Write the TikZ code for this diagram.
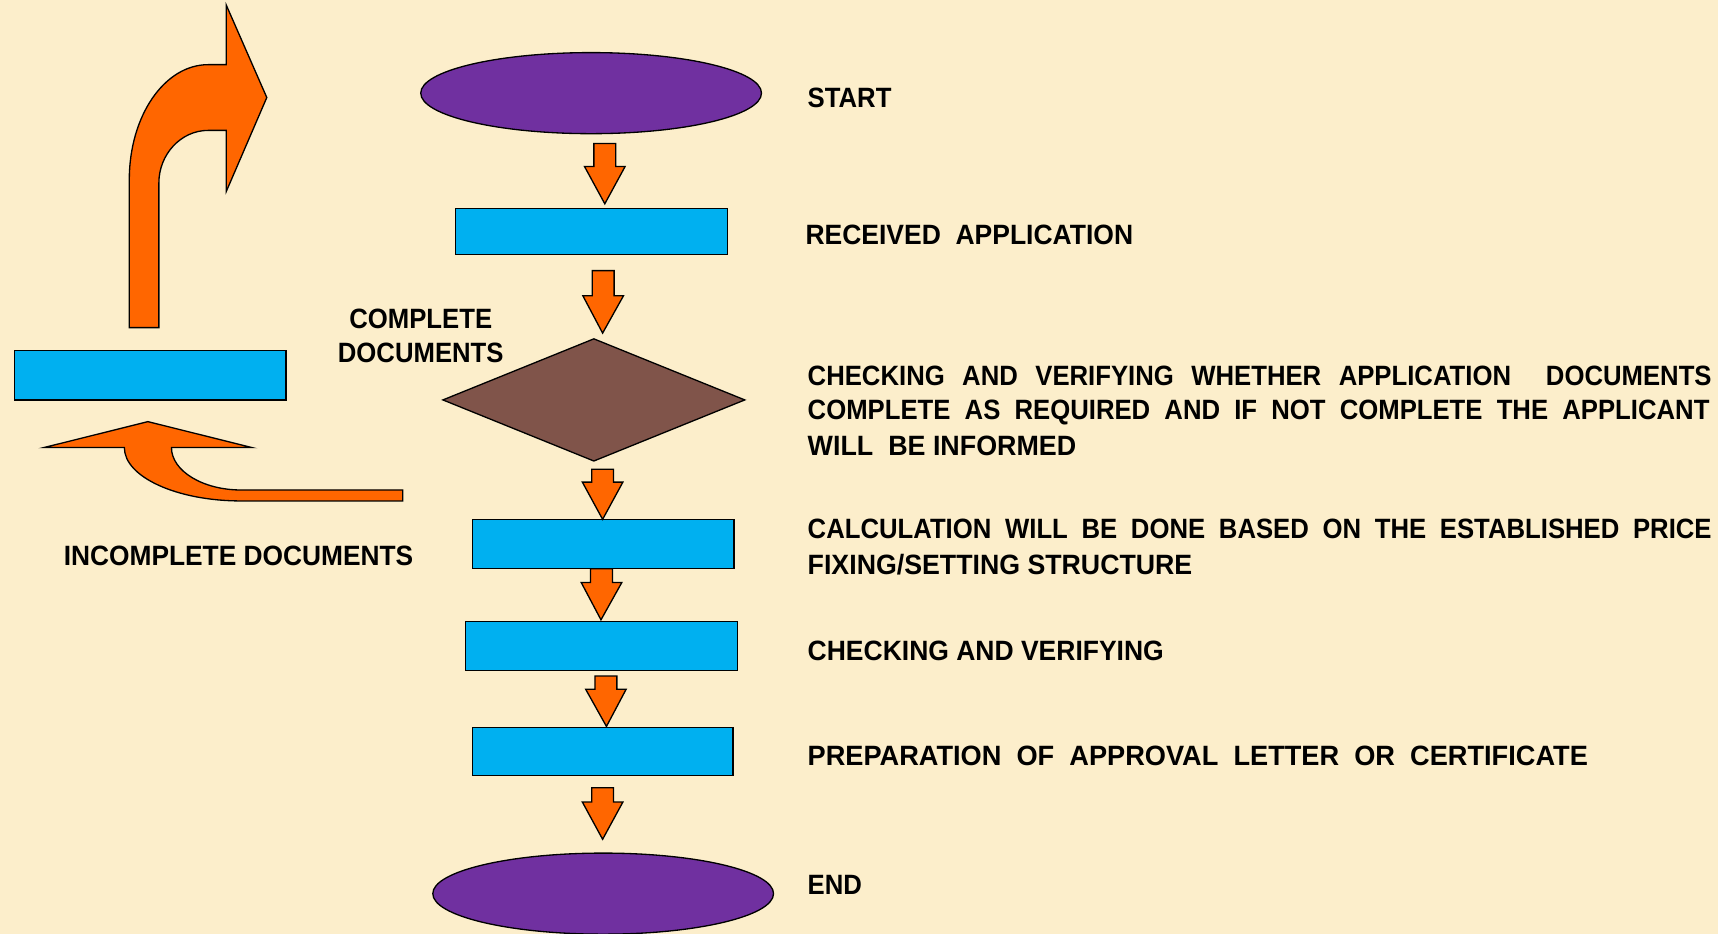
\documentclass[tikz,border=0pt]{standalone}
\usepackage{fontspec}
\setmainfont{Liberation Sans}[FakeStretch=0.92]
\usetikzlibrary{shapes.geometric,calc}
\definecolor{bgc}{RGB}{252,238,203}
\definecolor{purp}{RGB}{112,48,160}
\definecolor{cyanb}{RGB}{0,176,240}
\definecolor{orng}{RGB}{255,102,0}
\definecolor{brwn}{RGB}{128,84,74}
\tikzset{
 outl/.style={draw=black, line width=1.2pt, line join=miter},
 ell/.style={outl, ellipse, fill=purp, minimum width=311pt, minimum height=74pt, inner sep=0pt},
 boxr/.style={outl, rectangle, fill=cyanb, inner sep=0pt},
 dia/.style={outl, diamond, fill=brwn, inner sep=0pt, minimum width=276pt, minimum height=112pt, shape aspect=2.46},
 bent/.style={outl, fill=orng},
 lbl/.style={inner sep=0pt, anchor=base west, font=\bfseries\fontsize{25.5}{32}\selectfont},
}
\newcommand\barr[2]{\draw[bent] let \p1=(#1), \p2=(#2) in (\x1-10pt,\y1) -- (\x1+10pt,\y1) -- (\x1+10pt,\y2+34pt) -- (\x1+18.5pt,\y2+34pt) -- (\x2,\y2) -- (\x1-18.5pt,\y2+34pt) -- (\x1-10pt,\y2+34pt) -- cycle;}
\newcommand\jl[2]{\makebox[#1pt][s]{#2}}
\newcommand\fw[2]{\resizebox{#1pt}{\height}{#2}}
\begin{document}
\begin{tikzpicture}[x=1pt,y=-1pt]
\fill[bgc] (0,0) rectangle (1568,852);
\useasboundingbox (0,0) rectangle (1568,852);
% flow nodes
\node[ell] (start) at (539.5,85) {};
\node[boxr, minimum width=248pt, minimum height=42pt] (recv) at (540,211) {};
\node[dia] (check) at (542,365) {};
\node[boxr, minimum width=239pt, minimum height=44.6pt] (calc) at (550.5,496.3) {};
\node[boxr, minimum width=248pt, minimum height=45pt] (verify) at (549,589.5) {};
\node[boxr, minimum width=238pt, minimum height=44pt] (prep) at (550,685.8) {};
\node[ell] (end) at (550.5,815.6) {};
\node[boxr, minimum width=248pt, minimum height=45pt] (inform) at (137,342.5) {};
% block arrows
\coordinate (a1s) at (552,131);   \coordinate (a1e) at (552,186);
\coordinate (a2s) at (550.5,247); \coordinate (a2e) at (550,304);
\coordinate (a3s) at (550,428.3); \coordinate (a3e) at (550,474);
\coordinate (a4s) at (549,519);   \coordinate (a4e) at (548.5,565.7);
\coordinate (a5s) at (553,617);   \coordinate (a5e) at (553.5,663);
\coordinate (a6s) at (550,719);   \coordinate (a6e) at (550,766);
\barr{a1s}{a1e}
\barr{a2s}{a2e}
\barr{a3s}{a3e}
\barr{a4s}{a4e}
\barr{a5s}{a5e}
\barr{a6s}{a6e}
% bent arrows
\draw[bent] (118,299) -- (118,164) .. controls (118,106) and (150,59) .. (190,59) -- (206.5,59) -- (206.5,4.6) -- (243.5,89) -- (206.5,174.8) -- (206.5,119) -- (190,119) .. controls (165,119) and (145,141) .. (145,167) -- (145,299) -- cycle;
\draw[bent] (367.5,447.2) -- (220,447.2) .. controls (185.1,447.2) and (156.5,429.8) .. (156.5,408.5) -- (230,408.5) -- (135,384.8) -- (40,408.5) -- (113.5,408.5) .. controls (113.5,435.3) and (161.4,457.2) .. (220,457.2) -- (367.5,457.2) -- cycle;
% labels
\node[lbl] (tstart) at (737,98.3) {START};
\node[lbl] (trecv) at (735,223) {\fw{299}{RECEIVED\ \ APPLICATION}};
\node[lbl] (tchk1) at (737,351.4) {\jl{825}{CHECKING AND VERIFYING WHETHER APPLICATION\ \ DOCUMENTS}};
\node[lbl] (tchk2) at (737,383.3) {\jl{823}{COMPLETE AS REQUIRED AND IF NOT COMPLETE THE APPLICANT}};
\node[lbl] (tchk3) at (737,415.3) {\fw{245}{WILL\ \ BE INFORMED}};
\node[lbl] (tcalc1) at (737,491.7) {\jl{825}{CALCULATION WILL BE DONE BASED ON THE ESTABLISHED PRICE}};
\node[lbl] (tcalc2) at (737,524) {\fw{351}{FIXING/SETTING STRUCTURE}};
\node[lbl] (tver) at (737,603.1) {\fw{325}{CHECKING AND VERIFYING}};
\node[lbl] (tprep) at (737,698.6) {\fw{712}{PREPARATION\ \ OF\ \ APPROVAL\ \ LETTER\ \ OR\ \ CERTIFICATE}};
\node[lbl] (tend) at (737,816.1) {END};
\node[lbl, anchor=base] (tcomp1) at (384,299.7) {COMPLETE};
\node[lbl, anchor=base] (tcomp2) at (384,331.2) {DOCUMENTS};
\node[lbl] (tinc) at (58,516.5) {\fw{319}{INCOMPLETE DOCUMENTS}};
\end{tikzpicture}
\end{document}
